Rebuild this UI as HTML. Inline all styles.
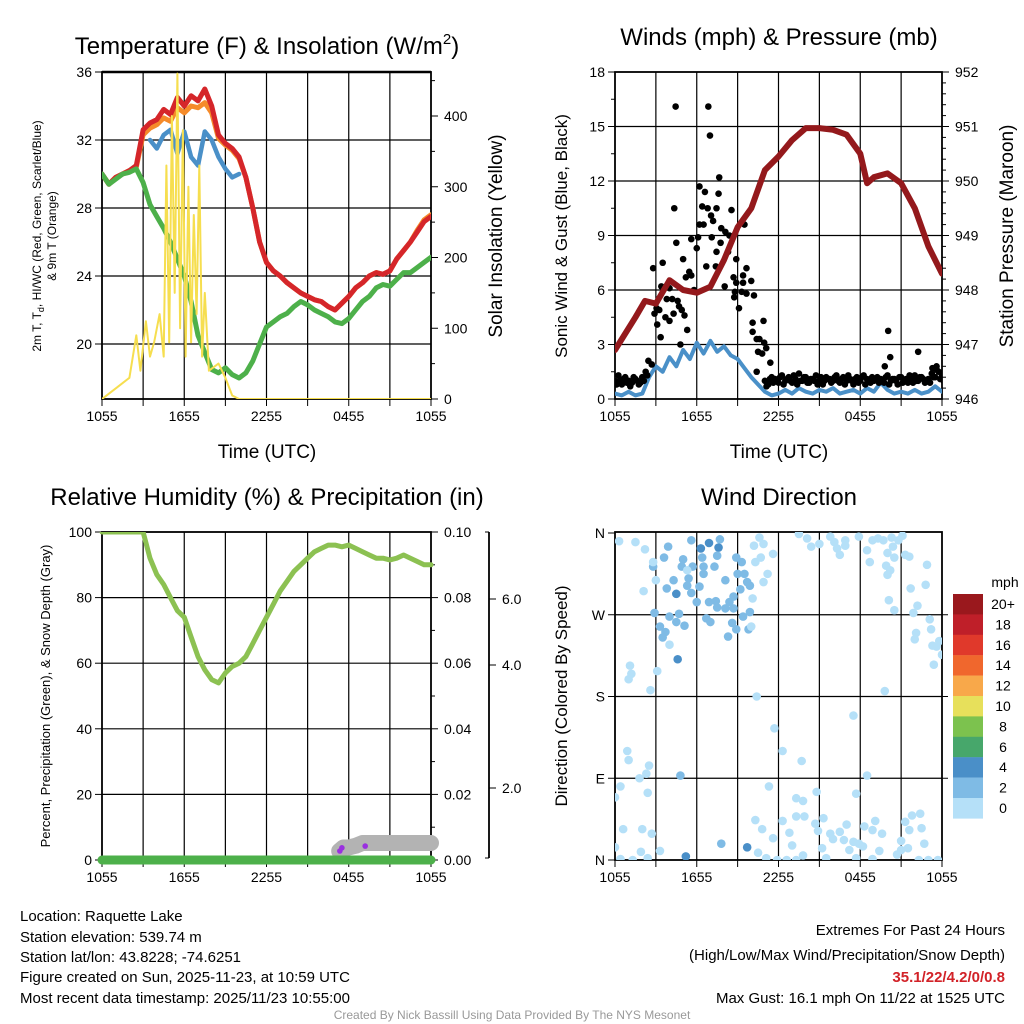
<!DOCTYPE html>
<html><head><meta charset="utf-8"><style>
html,body{margin:0;padding:0;background:#fff;}
svg{display:block;font-family:"Liberation Sans",Arial,sans-serif;}
</style></head><body>
<svg id="c" width="1024" height="1024" viewBox="0 0 1024 1024" xmlns="http://www.w3.org/2000/svg">
<rect width="1024" height="1024" fill="#fff"/>
<defs>
<clipPath id="cp1"><rect x="102" y="72" width="329" height="327"/></clipPath>
<clipPath id="cp2"><rect x="615" y="72" width="327" height="327"/></clipPath>
<clipPath id="cp3"><rect x="96" y="532" width="345" height="334"/></clipPath>
<clipPath id="cp4"><rect x="615" y="532" width="327" height="328"/></clipPath>
</defs>
<g id="p1"></g>
<g id="p2"></g>
<g id="p3"></g>
<g id="p4"></g>
<text x="267" y="54" font-size="24" text-anchor="middle">Temperature (F) &amp; Insolation (W/m<tspan dy="-10" font-size="15">2</tspan><tspan dy="10">)</tspan></text>
<text x="779" y="45" font-size="24" text-anchor="middle">Winds (mph) &amp; Pressure (mb)</text>
<text x="267" y="505" font-size="24" text-anchor="middle">Relative Humidity (%) &amp; Precipitation (in)</text>
<text x="779" y="505" font-size="24" text-anchor="middle">Wind Direction</text>
<text transform="translate(41,236) rotate(-90)" font-size="12" text-anchor="middle">2m T, T<tspan font-size="9" dy="3">d</tspan><tspan dy="-3">, HI/WC (Red, Green, Scarlet/Blue)</tspan></text>
<text transform="translate(56,236) rotate(-90)" font-size="12" text-anchor="middle">&amp; 9m T (Orange)</text>
<text transform="translate(502,236) rotate(-90)" font-size="19" text-anchor="middle">Solar Insolation (Yellow)</text>
<text transform="translate(567,236) rotate(-90)" font-size="17" text-anchor="middle">Sonic Wind &amp; Gust (Blue, Black)</text>
<text transform="translate(1013,236) rotate(-90)" font-size="19" text-anchor="middle">Station Pressure (Maroon)</text>
<text transform="translate(50,696) rotate(-90)" font-size="13" text-anchor="middle">Percent, Precipitation (Green), &amp; Snow Depth (Gray)</text>
<text transform="translate(567,696) rotate(-90)" font-size="17" text-anchor="middle">Direction (Colored By Speed)</text>
<text x="267" y="458" font-size="19" text-anchor="middle">Time (UTC)</text>
<text x="779" y="458" font-size="19" text-anchor="middle">Time (UTC)</text>
<g font-size="15">
<text x="20" y="921">Location: Raquette Lake</text>
<text x="20" y="942">Station elevation: 539.74 m</text>
<text x="20" y="962">Station lat/lon: 43.8228; -74.6251</text>
<text x="20" y="982">Figure created on Sun, 2025-11-23, at 10:59 UTC</text>
<text x="20" y="1003">Most recent data timestamp: 2025/11/23 10:55:00</text>
</g>
<g font-size="15" text-anchor="end">
<text x="1005" y="935">Extremes For Past 24 Hours</text>
<text x="1005" y="960">(High/Low/Max Wind/Precipitation/Snow Depth)</text>
<text x="1005" y="982" fill="#d22228" font-weight="bold">35.1/22/4.2/0/0.8</text>
<text x="1005" y="1003">Max Gust: 16.1 mph On 11/22 at 1525 UTC</text>
</g>
<text x="512" y="1019" font-size="12" fill="#999" text-anchor="middle">Created By Nick Bassill Using Data Provided By The NYS Mesonet</text>
</svg>
<script>
// ---- data (half-hourly, hours 0..24 from 1055 UTC) ----
const timeLabels = ["1055","1655","2255","0455","1055"];
const tempRed = [30,29.4,29.8,30,30.2,30.5,32.6,33,33.2,33.8,33.5,34.5,34,34.6,34.3,35,34,32.3,31.8,31.5,31,29.8,28,26,24.8,24.3,24,23.6,23.3,23,22.8,22.6,22.5,22.2,22,22.4,22.8,23.3,23.6,24,24.2,24.1,24.3,25,25.5,26,26.6,27.2,27.5];
const tempOrange = [30,29.4,29.8,30,30.2,30.4,32.3,32.7,32.9,33.3,33.1,33.9,33.6,34,33.9,34.2,33.6,32.1,31.7,31.4,30.9,29.8,28,26,24.8,24.3,24,23.6,23.3,23,22.8,22.6,22.5,22.2,22,22.4,22.8,23.3,23.6,24,24.2,24.1,24.3,25,25.5,26,26.7,27.3,27.6];
const tempGreen = [30,29.4,29.7,30,30.1,30.3,29.5,28.2,27.5,26.8,26,25,24,22.5,20.5,19.5,18.5,18.3,18.6,18.2,18,18.3,19,20,21,21.3,21.6,21.8,22.2,22.5,22.3,22,21.8,21.6,21.3,21.2,21.5,22,22.5,22.8,23.3,23.5,23.4,23.8,24.2,24.2,24.5,24.8,25.1];
const tempBlue = [null,null,null,null,null,null,null,32,31.5,32.3,32.6,31.2,32.5,31,30.5,32.5,32,31,30.3,29.8,30,null,null,null,null,null,null,null,null,null,null,null,null,null,null,null,null,null,null,null,null,null,null,null,null,null,null,null,null];
const insolHour = [0,1,2,2.5,2.8,3.2,3.5,3.8,4.2,4.5,4.7,4.9,5.1,5.3,5.5,5.7,5.9,6.1,6.3,6.5,6.7,6.9,7.1,7.3,7.5,7.8,8.5,9,9.5,10,24];
const insolVal = [0,15,30,90,40,110,60,80,120,60,330,80,400,150,460,100,380,60,300,80,260,120,330,60,150,40,50,30,5,0,0];
const pressHour = [0,1.5,2.2,3,4,5,6,7,8,9,10,11,12,13,14,15,16,17,18,18.5,19,20,21,22,23,24];
const pressVal = [946.9,947.5,947.8,947.75,948.18,948,947.95,948.06,948.55,949.15,949.5,950.2,950.45,950.75,950.97,950.97,950.94,950.85,950.5,949.96,950.07,950.14,949.96,949.5,948.8,948.3];
const windSpeed = [0.3,0.2,0.4,0.2,0.3,1.2,1.8,1.5,2.3,1.8,2.7,2.2,3.1,2.5,3.2,2.6,2.9,2.4,2.2,1.7,1.2,0.8,0.4,0.2,0.3,0.5,0.3,0.6,0.4,0.3,0.5,0.4,0.6,0.3,0.4,0.5,0.3,0.6,0.4,0.9,0.5,0.3,0.4,0.3,0.5,0.3,0.4,0.7,0.4];
const gustHour = [4.45,6.85,6.97,4.35,6.2,6.6,7.65,7.6,6.4,6.8,7.45,8.55,7.05,7.2,6.2,6.5,9.5,7.8,8.1,8.4,7.1,6.1,5.6,7.75,4.5,6.0,7.45,8.3,8.9,5.0,3.5,6.7,7.4,2.8,5.45,9.65,5.6,5.2,8.7,9.4,10.0,3.4,4.0,5.8,8.05,8.9,9.4,8.8,9.3,9.65,10.2,8.75,3.8,4.2,4.6,4.7,3.05,3.25,4.9,2.9,4.3,3.7,9.1,5.1,4.0,3.1,10.1,10.9,5.3,10.1,3.35,10.4,10.6,4.8,10.95,10.5,10.8,11.1,11.4,10.4,2.45,2.7,20.05,20.2,22.25,19.8,23.6,23.3];
const gustMph = [16.1,16.1,14.5,10.5,11.7,11.4,12.2,11.3,10.6,10.5,10.5,10.4,10.1,9.8,9.6,9.6,9.6,9.4,9.2,9.0,8.9,8.9,8.8,8.6,8.6,8.3,8.1,8.1,7.7,7.7,7.5,7.3,7.3,7.2,7.0,7.2,6.8,6.7,6.7,6.8,6.5,6.2,6.1,6.0,6.2,6.4,6.4,5.9,5.9,5.8,5.7,5.6,5.5,5.5,5.4,5.1,5.0,4.9,4.9,4.7,4.7,4.5,5.0,4.6,4.3,4.1,4.2,4.3,3.8,3.7,3.4,3.3,3.3,3.0,3.1,2.6,2.5,2.8,2.0,1.5,2.1,1.9,3.75,2.3,2.6,1.8,1.8,1.7];
const gustBase = [1.0,1.3,0.8,1.2,1.0,0.9,1.1,0.8,1.2,1.5,null,null,null,null,null,null,null,null,null,null,null,null,null,null,null,null,null,null,null,null,null,null,null,null,null,null,null,null,null,null,null,null,null,null,1.0,0.8,1.2,1.1,0.9,1.3,1.0,1.2,0.9,1.1,1.4,1.0,1.2,0.9,1.1,1.3,1.0,0.8,1.2,1.1,1.0,1.3,0.9,1.2,1.0,1.1,0.8,1.2,1.0,1.3,1.1,0.9,1.0,1.2,1.1,0.9,1.3,1.0,1.1,0.8,1.2,1.0,0.9,1.1,1.3,1.0,1.2,0.9,1.1,1.4,1.2,1.5,1.3];
const gustBase2 = [0.8,1.0,1.1,0.9,0.7,1.2,1.0,0.9,1.0,1.3,null,null,null,null,null,null,null,null,null,null,null,null,null,null,null,null,null,null,null,null,null,null,null,null,null,null,null,null,null,null,null,null,null,null,0.7,1.1,0.9,1.0,1.2,0.8,1.1,1.0,1.3,0.8,1.0,1.2,0.9,1.1,1.0,0.8,1.2,1.0,1.1,0.9,1.2,1.0,1.1,0.8,1.3,1.0,1.1,0.9,1.2,0.8,1.0,1.2,1.1,0.9,1.0,1.2,0.8,1.1,1.0,1.2,0.9,1.1,1.3,0.9,1.0,1.2,1.1,1.0,0.9,1.2,1.6,1.1,1.0];
const rhVal = [100,100,100,100,100,100,100,92,87,84,80,76,74,68,62,58,55,54,57,59,60,62,66,70,74,78,82,85,88,90,92,94,95,96,96,95.5,96,95,94,93,92,92,91.5,92,93,92,91,90,90];
const precipVal = [0,0,0,0,0,0,0,0,0,0,0,0,0,0,0,0,0,0,0,0,0,0,0,0,0,0,0,0,0,0,0,0,0,0,0,0,0,0,0,0,0,0,0,0,0,0,0,0,0];
const snowHour = [17.3,17.6,18,18.5,19,24];
const snowDepth = [0.2,0.3,0.3,0.35,0.43,0.43];
const snowTicks = [2,4,6];
const ptypeHour = [17.5,17.35,19.2];
const ptypeDepth = [0.29,0.2,0.34];
const dirHour = [3.9,5.6,6.3,6.9,7.6,7.7,3.6,5.0,6.4,7.5,8.9,9.3,2.8,4.9,5.7,6.5,7.3,9.0,9.5,4.3,5.4,6.5,8.1,9.7,3.8,4.5,5.3,6.2,9.2,9.9,10.1,5.6,6.0,6.9,7.4,8.1,8.7,8.4,7.5,8.7,2.9,4.7,9.9,4.0,4.5,5.1,3.3,6.7,7.0,8.6,8.9,9.8,9.4,3.7,3.5,8.3,4.0,4.6,10.0,5.3,3.0,2.8,
0.3,1.5,2.2,2.1,1.1,1.2,1.0,3.1,2.6,10.3,10.7,10.2,10.6,10.9,11.6,11.2,10.9,13.5,14.1,14.4,15.0,15.8,16.1,16.3,16.9,16.9,16.5,17.9,18.5,18.7,18.9,19.3,19.7,20.3,21.1,20.8,20.4,20.0,20.5,21.3,21.6,19.9,20.2,20.0,22.9,22.8,21.7,20.1,20.5,22.2,21.9,23.1,23.2,22.1,22.0,23.3,23.8,23.6,24.0,23.4,19.8,10.4,17.5,11.7,12.3,13.7,18.5,4.8,
0.9,1.0,2.5,2.3,1.8,0.4,0.0,2.4,0.6,2.0,2.7,0.0,1.9,3.3,2.4,0.4,1.3,5.2,7.8,9.7,11.3,10.3,10.8,11.6,10.5,11.1,12.3,12.8,13.0,11.9,12.6,13.3,13.3,13.8,13.3,13.9,14.8,15.3,14.7,14.9,15.8,16.5,17.0,16.0,16.8,17.5,15.2,13.8,15.5,17.2,17.9,18.3,19.1,18.9,19.6,18.2,19.4,18.9,17.7,17.7,21.0,21.3,21.8,22.4,21.6,22.5,22.7,21.5,20.7,22.3,23.0,23.7,21.0];
const dirDeg = [345,352,343,349,344,353,333,331,333,335,333,328,323,323,323,323,323,315,315,308,310,315,308,306,299,293,302,301,298,302,288,294,284,284,285,277,290,284,278,277,272,271,273,268,262,258,257,266,262,261,254,254,268,251,245,246,237,221,257,319,308,328,
351,350,342,296,214,205,199,208,187,328,333,346,355,348,337,315,306,359,354,345,348,356,350,343,352,346,336,356,341,328,352,354,352,355,357,352,345,338,333,336,334,324,319,314,325,303,299,286,275,280,272,265,254,250,243,236,241,235,226,215,186,180,159,145,120,109,93,93,
120,110,104,95,90,81,69,74,34,34,29,14,9,10,2,1,0,4,18,14,81,44,34,24,8,2,43,30,16,0,0,0,68,65,48,48,75,46,40,32,29,31,39,23,22,20,13,5,2,11,18,37,43,33,29,15,10,1,73,2,21,42,49,51,33,35,18,13,6,0,0,0,11];
const dirSpeed = [3,3,5,5,5,3,3,3,3,3,3,3,2,3,3,3,3,3,3,3,3,2,3,2,3,5,3,3,3,3,1,3,3,3,3,3,3,3,3,3,3,3,3,3,3,3,3,3,3,3,3,3,3,2,3,3,1,4,1,1,1,1,
1,1,1,1,1,1,1,1,1,1,1,1,1,1,1,1,1,1,1,1,1,1,1,1,1,1,1,1,1,1,1,1,1,1,1,1,1,1,1,1,1,1,1,1,1,1,1,1,1,1,1,1,1,1,1,1,1,1,1,1,1,1,1,1,1,1,1,2,
1,1,1,1,1,1,1,1,1,1,1,1,1,1,1,1,1,4,3,4,1,1,1,1,1,1,1,1,1,1,1,1,1,1,1,1,1,1,1,1,1,1,1,1,1,1,1,1,1,1,1,1,1,1,1,1,1,1,1,1,1,1,1,1,1,1,1,1,1,1,1,1,1];
const cbLabels = ["20+","18","16","14","12","10","8","6","4","2","0"];
const cbColors = ["#9a181d","#bf1f29","#e0392b","#f0672d","#f8a84a","#e7e05b","#7cc24e","#47a76b","#4a8fc8","#7fbbe5","#b5e0f8"];

const NS="http://www.w3.org/2000/svg";
function mk(parent,tag,attrs){const e=document.createElementNS(NS,tag);for(const k in attrs)e.setAttribute(k,attrs[k]);parent.appendChild(e);return e;}
function scale(d0,d1,r0,r1){return v=>r0+(v-d0)/(d1-d0)*(r1-r0);}
function poly(g,xs,ys,xf,yf,color,w,clip){
  let segs=[],cur=[];
  for(let i=0;i<xs.length;i++){if(ys[i]==null){if(cur.length)segs.push(cur);cur=[];}else cur.push(xf(xs[i]).toFixed(1)+","+yf(ys[i]).toFixed(1));}
  if(cur.length)segs.push(cur);
  segs.forEach(s=>{const p=mk(g,"polyline",{points:s.join(" "),fill:"none",stroke:color,"stroke-width":w,"stroke-linejoin":"round","stroke-linecap":"round","clip-path":"url(#"+clip+")"});
  
  });
}
const half=Array.from({length:49},(_,i)=>i*0.5);
const quarter=Array.from({length:97},(_,i)=>i*0.25);

function frame(g,x0,x1,y0,y1,hGrid,leftTicks,rightTicks,rightMinor){
  const xf=scale(0,24,x0,x1);
  for(let k=1;k<8;k++){const x=xf(k*3);const l=mk(g,"line",{x1:x,x2:x,y1:y0,y2:y1,stroke:"#000","stroke-width":1.2});
    
    }
  hGrid.forEach(y=>{const l=mk(g,"line",{x1:x0,x2:x1,y1:y,y2:y,stroke:"#000","stroke-width":1.2});
    
    });
  for(let k=0;k<=8;k++){const x=xf(k*3);mk(g,"line",{x1:x,x2:x,y1:y1,y2:y1+7,stroke:"#000","stroke-width":1});}
  timeLabels.forEach((t,i)=>{const tx=mk(g,"text",{x:xf(i*6),y:y1+22,"font-size":14,"text-anchor":"middle"});tx.textContent=t;
    
    });
  leftTicks.forEach(([y,l])=>{mk(g,"line",{x1:x0-7,x2:x0,y1:y,y2:y,stroke:"#000","stroke-width":1});
    const tx=mk(g,"text",{x:x0-10,y:y+5,"font-size":14,"text-anchor":"end"});tx.textContent=l;
    
    });
  rightTicks.forEach(([y,l])=>{mk(g,"line",{x1:x1,x2:x1+7,y1:y,y2:y,stroke:"#000","stroke-width":1});
    if(l!==""){const tx=mk(g,"text",{x:x1+13,y:y+5,"font-size":14});tx.textContent=l;
    
    }});
  rightMinor.forEach(y=>mk(g,"line",{x1:x1,x2:x1+4,y1:y,y2:y,stroke:"#000","stroke-width":1}));
  const r=mk(g,"rect",{x:x0,y:y0,width:x1-x0,height:y1-y0,fill:"none",stroke:"#000","stroke-width":1.8});
  
  
  return xf;
}

// ---- Panel 1: temperature ----
(function(){
  const g=document.getElementById("p1");
  const yT=scale(36,20,72,344), yS=scale(0,400,399,116);
  const xf=frame(g,102,431,72,399,[20,24,28,32].map(yT),[36,32,28,24,20].map(v=>[yT(v),String(v)]),[0,100,200,300,400].map(v=>[yS(v),String(v)]),[50,150,250,350,450].map(yS));
  mk(g,"line",{x1:102,x2:431,y1:yT(36),y2:yT(36),stroke:"#000","stroke-width":2.5});
  poly(g,half,tempOrange,xf,yT,"#f58b2a",5,"cp1");
  poly(g,half,tempRed,xf,yT,"#d5262a",5,"cp1");
  poly(g,half,tempBlue,xf,yT,"#4a90c8",4.5,"cp1");
  poly(g,half,tempGreen,xf,yT,"#4db04a",5,"cp1");
  poly(g,insolHour,insolVal,xf,yS,"#f6de4f",2,"cp1");
})();

// ---- Panel 2: winds & pressure ----
(function(){
  const g=document.getElementById("p2");
  const yW=scale(0,18,399,72), yP=scale(946,952,399,72);
  const xf=frame(g,615,942,72,399,[3,6,9,12,15].map(yW),[0,3,6,9,12,15,18].map(v=>[yW(v),String(v)]),[946,947,948,949,950,951,952].map(v=>[yP(v),String(v)]),Array.from({length:30},(_,i)=>yP(946+i*0.2)));
  [1.5,4.5,7.5,10.5,13.5,16.5].forEach(v=>mk(g,"line",{x1:611,x2:615,y1:yW(v),y2:yW(v),stroke:"#000"}));
  poly(g,half,windSpeed,xf,yW,"#4a90c8",4,"cp2");
  const dg=mk(g,"g",{"clip-path":"url(#cp2)"});
  
  
  gustHour.forEach((h,i)=>{const c=mk(dg,"circle",{cx:xf(h),cy:yW(gustMph[i]),r:3.3,fill:"#000"});
    
    });
  quarter.forEach((h,i)=>{if(gustBase[i]==null)return;const c=mk(dg,"circle",{cx:xf(h),cy:yW(gustBase[i]),r:3.3,fill:"#000"});
    
    });
  quarter.forEach((h,i)=>{if(gustBase2[i]==null)return;const c=mk(dg,"circle",{cx:xf(h+0.12),cy:yW(gustBase2[i]),r:3.3,fill:"#000"});
    
    });
  poly(g,pressHour,pressVal,xf,yP,"#94191c",6,"cp2");
})();

// ---- Panel 3: RH & precip ----
(function(){
  const g=document.getElementById("p3");
  const yR=scale(0,100,860,532), yPr=scale(0,0.1,860,532);
  const snK=[0,2,4,6,8], snY=[858,788,665,599,540];
  const ySn=v=>{for(let i=0;i<snK.length-1;i++){if(v<=snK[i+1])return snY[i]+(v-snK[i])/(snK[i+1]-snK[i])*(snY[i+1]-snY[i]);}return snY[snY.length-1];};
  const xf=frame(g,102,431,532,860,[20,40,60,80].map(yR),[0,20,40,60,80,100].map(v=>[yR(v),String(v)]),[0,0.02,0.04,0.06,0.08,0.1].map(v=>[yPr(v),v.toFixed(2)]),[0.01,0.03,0.05,0.07,0.09].map(yPr));
  poly(g,snowHour,snowDepth,xf,ySn,"#b3b3b3",16,"cp3");
  ptypeHour.forEach((h,i)=>{const c=mk(g,"circle",{cx:xf(h),cy:ySn(ptypeDepth[i]),r:2.8,fill:"#9a30e0"});
    
    });
  poly(g,half,precipVal,xf,yPr,"#4db04a",9,"cp3");
  poly(g,half,rhVal,xf,yR,"#8cc152",5,"cp3");
  const ax=mk(g,"line",{x1:489,x2:489,y1:532,y2:858,stroke:"#000","stroke-width":1.8});
  
  
  mk(g,"line",{x1:489,x2:485,y1:532,y2:532,stroke:"#000"});
  mk(g,"line",{x1:489,x2:485,y1:858,y2:858,stroke:"#000"});
  snowTicks.forEach(v=>{mk(g,"line",{x1:489,x2:496,y1:ySn(v),y2:ySn(v),stroke:"#000"});
    const t=mk(g,"text",{x:502,y:ySn(v)+5,"font-size":14});t.textContent=v.toFixed(1);
    
    });
})();

// ---- Panel 4: wind direction ----
(function(){
  const g=document.getElementById("p4");
  const yD=scale(0,360,860,533);
  const xf=frame(g,615,942,532,860,[90,180,270].map(yD),[[yD(360),"N"],[yD(270),"W"],[yD(180),"S"],[yD(90),"E"],[yD(0),"N"]],[],[]);
  [90,180,270].forEach(v=>mk(g,"line",{x1:942,x2:948,y1:yD(v),y2:yD(v),stroke:"#000"}));
  const dg=mk(g,"g",{"clip-path":"url(#cp4)"});
  dirHour.forEach((h,i)=>{const s=dirSpeed[i];const idx=Math.max(0,10-Math.floor(s/2));
    const c=mk(dg,"circle",{cx:xf(h),cy:yD(dirDeg[i]),r:4.3,fill:cbColors[idx]});
    
    });
  const cb=mk(g,"g",{});
  
  
  cbColors.forEach((col,i)=>{mk(cb,"rect",{x:953,y:594+i*20.4,width:30,height:20.6,fill:col});
    const t=mk(cb,"text",{x:1003,y:594+i*20.4+15,"font-size":14,"text-anchor":"middle"});t.textContent=cbLabels[i];
    
    });
  const mt=mk(cb,"text",{x:1005,y:587,"font-size":14,"text-anchor":"middle"});mt.textContent="mph";
  
  
})();
</script>
</body></html>
